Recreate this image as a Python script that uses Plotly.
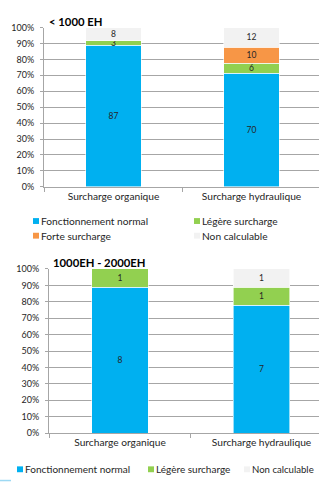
import plotly.graph_objects as go

categories = ["Surcharge organique", "Surcharge hydraulique"]
series_names = ["Fonctionnement normal", "Légère surcharge", "Forte surcharge", "Non calculable"]
series_colors = ["#00B0F0", "#92D050", "#F79646", "#F2F2F2"]

# Chart 1 : < 1000 EH (counts, shown as 100% stacked)
top_normal = [87, 70]
top_legere = [3, 6]
top_forte = [0, 10]
top_noncalc = [8, 12]

# Chart 2 : 1000EH - 2000EH
bot_normal = [8, 7]
bot_legere = [1, 1]
bot_noncalc = [0, 1]

y_tick_values = [0, 10, 20, 30, 40, 50, 60, 70, 80, 90, 100]
y_tick_labels = ["0%", "10%", "20%", "30%", "40%", "50%", "60%", "70%", "80%", "90%", "100%"]
top_title = "< 1000 EH"
bot_title = "1000EH - 2000EH"

W, H = 319, 487
FONT = "Lato"
TXT = "#262626"
GRID = "#A6A6A6"


def lbl(vals):
    return [str(v) if v else "" for v in vals]


fig = go.Figure()

top_series = [top_normal, top_legere, top_forte, top_noncalc]
for name, col, vals in zip(series_names, series_colors, top_series):
    fig.add_trace(go.Bar(
        x=categories, y=vals, name=name, marker=dict(color=col, line=dict(color="white", width=0.6)),
        text=lbl(vals), textposition="inside", insidetextanchor="middle", textangle=0,
        insidetextfont=dict(family=FONT, size=8.5, color=TXT),
        width=0.4, xaxis="x", yaxis="y", showlegend=False, hoverinfo="skip"))

bot_series = [(series_names[0], series_colors[0], bot_normal),
              (series_names[1], series_colors[1], bot_legere),
              (series_names[3], series_colors[3], bot_noncalc)]
for name, col, vals in bot_series:
    fig.add_trace(go.Bar(
        x=categories, y=vals, name=name, marker=dict(color=col, line=dict(color="white", width=0.6)),
        text=lbl(vals), textposition="inside", insidetextanchor="middle", textangle=0,
        insidetextfont=dict(family=FONT, size=8.5, color=TXT),
        width=0.4, xaxis="x2", yaxis="y2", showlegend=False, hoverinfo="skip"))


def px_x(v):
    return v / W


def px_y(v):
    return 1 - v / H


xcommon = dict(type="category", showline=True, linecolor=GRID, linewidth=1, ticks="outside",
               tickson="boundaries", ticklen=4, tickcolor=GRID, showgrid=False,
               tickfont=dict(family=FONT, size=10.2, color=TXT), fixedrange=True)
ycommon = dict(range=[0, 100], tickmode="array", tickvals=y_tick_values, ticktext=y_tick_labels,
               showline=True, linecolor=GRID,
               linewidth=1, ticks="outside", ticklen=3, tickcolor=GRID, showgrid=True, gridcolor=GRID,
               gridwidth=1, zeroline=False, tickfont=dict(family=FONT, size=9, color=TXT),
               ticklabelstandoff=4, fixedrange=True)

fig.update_layout(
    width=W, height=H, margin=dict(l=0, r=0, t=0, b=0),
    paper_bgcolor="white", plot_bgcolor="white",
    barmode="stack", barnorm="percent",
    uniformtext=dict(minsize=8.5, mode="show"),
    xaxis=dict(domain=[px_x(44), 1], range=[-0.504, 1.489], anchor="y", **xcommon),
    yaxis=dict(domain=[px_y(185), px_y(22)], anchor="x", **ycommon),
    xaxis2=dict(domain=[px_x(49), 1], range=[-0.502, 1.406], anchor="y2", **xcommon),
    yaxis2=dict(domain=[px_y(437), px_y(269)], anchor="x2", **ycommon),
    font=dict(family=FONT, color=TXT),
)

annotations = [
    dict(text="<b>%s</b>" % top_title, x=px_x(47), y=px_y(16), xref="paper", yref="paper",
         xanchor="left", yanchor="middle", showarrow=False, font=dict(family=FONT, size=11.3, color="#000")),
    dict(text="<b>%s</b>" % bot_title, x=px_x(51), y=px_y(262), xref="paper", yref="paper",
         xanchor="left", yanchor="middle", showarrow=False, font=dict(family=FONT, size=11.3, color="#000")),
]
shapes = []

# manual legends
top_legend = [(series_names[0], series_colors[0], 33, 220, 10.2), (series_names[1], series_colors[1], 194, 220, 10.2),
              (series_names[2], series_colors[2], 33, 235, 10.2), (series_names[3], series_colors[3], 194, 235, 10.2)]
bot_legend = [(series_names[0], series_colors[0], 17, 474, 10), (series_names[1], series_colors[1], 148, 474, 10),
              (series_names[3], series_colors[3], 244, 474, 9.6)]
for name, col, lx, ly, fs in top_legend + bot_legend:
    shapes.append(dict(type="rect", xref="paper", yref="paper", x0=px_x(lx), x1=px_x(lx + 6),
                       y0=px_y(ly + 3), y1=px_y(ly - 3), fillcolor=col, line=dict(width=0)))
    annotations.append(dict(text=name, x=px_x(lx + 7), y=px_y(ly), xref="paper", yref="paper",
                            xanchor="left", yanchor="middle", showarrow=False, borderpad=0,
                            font=dict(family=FONT, size=fs, color=TXT)))

# small stray mark at bottom-left of the original image
shapes.append(dict(type="line", xref="paper", yref="paper", x0=0, x1=px_x(11), y0=px_y(485.5), y1=px_y(485.5),
                   line=dict(color="#9DD9F3", width=1.5)))

fig.update_layout(annotations=annotations, shapes=shapes)
fig.write_html("out.html", config={"displayModeBar": False},
               post_script="document.body.style.margin='0px';document.body.style.overflow='hidden';")
